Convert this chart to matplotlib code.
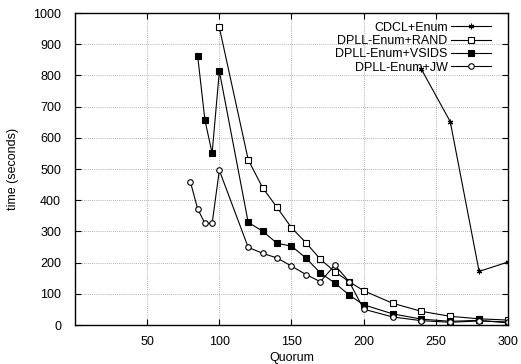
import matplotlib
matplotlib.use("Agg")
import matplotlib.pyplot as plt

plt.rcParams['font.family'] = ['Liberation Sans', 'DejaVu Sans']

cdcl_x = [240, 260, 280, 300]
cdcl_y = [820, 652, 172, 202]

rand_x = [100, 120, 130, 140, 150, 160, 170, 180, 190, 200, 220, 240, 260, 280, 300]
rand_y = [954, 530, 440, 377, 312, 264, 211, 171, 139, 110, 70, 44, 28, 20, 16]

vsids_x = [85, 90, 95, 100, 120, 130, 140, 150, 160, 170, 180, 190, 200, 220, 240, 260, 280, 300]
vsids_y = [862, 657, 551, 814, 329, 301, 262, 253, 215, 167, 135, 96, 65, 36, 19, 12, 15, 7]

jw_x = [80, 85, 90, 95, 100, 120, 130, 140, 150, 160, 170, 180, 190, 200, 220, 240, 260, 280, 300]
jw_y = [458, 372, 326, 326, 496, 249, 230, 215, 189, 162, 139, 192, 139, 51, 26, 14, 9, 13, 10]

xticks = [50, 100, 150, 200, 250, 300]
yticks = [0, 100, 200, 300, 400, 500, 600, 700, 800, 900, 1000]

fig = plt.figure(figsize=(5.21, 3.64), dpi=100)
ax = fig.add_axes([0.144, 0.107, 0.831, 0.857])

lw = 0.8
ax.plot(cdcl_x, cdcl_y, color='black', lw=lw, marker=(6, 2, 0), ms=4, mew=0.8, label='CDCL+Enum')
ax.plot(rand_x, rand_y, color='black', lw=lw, marker='s', ms=4.5, mfc='white', mew=0.8, label='DPLL-Enum+RAND')
ax.plot(vsids_x, vsids_y, color='black', lw=lw, marker='s', ms=4.5, mfc='black', mew=0.8, label='DPLL-Enum+VSIDS')
ax.plot(jw_x, jw_y, color='black', lw=lw, marker='o', ms=4, mfc='white', mew=0.8, label='DPLL-Enum+JW')

ax.set_xlim(0, 300)
ax.set_ylim(0, 1000)
ax.set_xticks(xticks)
ax.set_yticks(yticks)
ax.tick_params(direction='in', top=True, right=True, labelsize=9, length=4, width=0.8)
ax.tick_params(axis='y', pad=10)
ax.tick_params(axis='x', pad=8)
ax.grid(True, linestyle=(0, (1, 1.5)), color='#999999', lw=0.6)
for s in ax.spines.values():
    s.set_linewidth(1.0)

ax.set_xlabel('Quorum', fontsize=9, labelpad=3)
ax.set_ylabel('time (seconds)', fontsize=9, labelpad=10)

leg = ax.legend(loc='upper right', bbox_to_anchor=(0.982, 1.0), frameon=False, markerfirst=False,
                fontsize=9, handlelength=3.2, labelspacing=0.1, borderaxespad=0.3, handletextpad=0.3)
for col in leg._legend_handle_box.get_children():
    col.align = 'right'

fig.savefig('out.png', dpi=100)
